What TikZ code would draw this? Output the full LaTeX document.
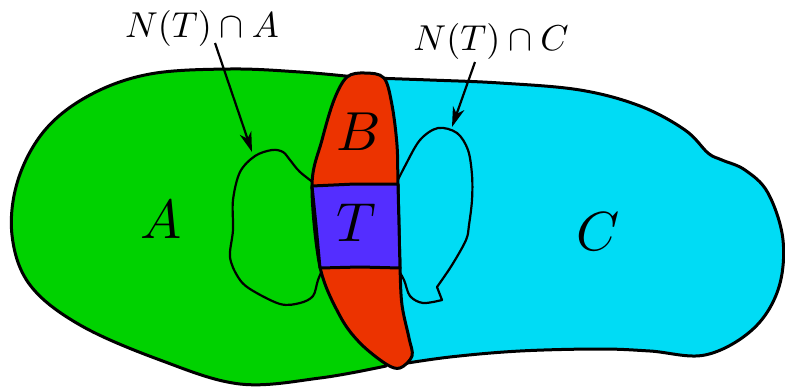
\documentclass[tikz,border=0pt]{standalone}
\usetikzlibrary{arrows.meta}
\definecolor{regA}{RGB}{0,210,0}
\definecolor{regB}{RGB}{236,51,0}
\definecolor{regT}{RGB}{84,46,255}
\definecolor{regC}{RGB}{0,220,245}
\tikzset{
  region/.style={draw=black, line width=3pt, line join=round},
  nbhd/.style={draw=black, line width=2.2pt, line join=round},
  pointer/.style={draw=black, line width=2.2pt, -{Stealth[length=20pt,width=12pt,inset=6pt]}},
  biglabel/.style={inner sep=0pt, scale=5.5},
  smalllabel/.style={inner sep=0pt, anchor=base, scale=3.6}
}
\begin{document}
\begin{tikzpicture}[x=1pt,y=-1pt]
\useasboundingbox (0,0) rectangle (785,386);
% region A (green)
\draw[region, fill=regA] plot[smooth, tension=0.6] coordinates {(355,77) (300,72) (230,69) (150,74) (90,95) (45,130) (18,180) (12,235) (30,285) (80,325) (160,360) (240,384) (320,378) (386,366)}
  -- (378,330) -- (360,250) -- (358,150) -- (362,90) -- cycle;
% region C (cyan)
\draw[region, fill=regC] plot[smooth, tension=0.6] coordinates {(372,78) (430,80) (500,83) (580,90) (640,106) (685,130) (708,153) (722,160) (745,170) (768,193) (783,240) (778,290) (752,330) (705,355) (650,351) (600,349) (520,351) (450,357) (395,365)}
  -- (398,300) -- (385,200) -- (380,100) -- cycle;
% N(T) cap A
\draw[nbhd] plot[smooth, tension=0.55] coordinates {(318,186) (300,172) (290,160) (283,152) (272,150) (255,156) (240,172) (233,200) (233,230) (230,257) (238,277) (250,289) (280,304) (300,303) (313,296) (318,280) (324,266)};
% N(T) cap C
\draw[nbhd] plot[smooth, tension=0.55] coordinates {(394,188) (405,166) (420,140) (438,128) (457,133) (468,150) (472,175) (472,200) (469,225) (466,240) (452,265) (437,287)}
  -- (442,300) -- plot[smooth, tension=0.55] coordinates {(442,300) (423,303) (410,296) (404,280) (396,266)};
% region B (red strip)
\draw[region, fill=regB] plot[smooth cycle, tension=0.55] coordinates {(347,77) (365,73) (384,78) (392,105) (397,145) (398,185) (400,267) (402,305) (409,338) (412,356) (400,368) (386,364) (360,343) (340,316) (320,267) (312,185) (322,140) (334,100)};
% region T (blue)
\draw[region, fill=regT] (312,186) -- (355,184) -- (398,184) -- (399,225) -- (400,268) -- (360,267) -- (320,268) -- (316,225) -- cycle;
% labels
\node[biglabel] (lA) at (161,220) {$A$};
\node[biglabel] (lB) at (359,132) {$B$};
\node[biglabel] (lT) at (356,223) {$T$};
\node[biglabel] (lC) at (598,232) {$C$};
\node[smalllabel] (nA) at (202,37) {$N(T)\cap A$};
\node[smalllabel] (nC) at (491,50) {$N(T)\cap C$};
\coordinate (tA) at (252,152);
\coordinate (tC) at (452,127);
\draw[pointer] (215,43) -- (tA);
\draw[pointer] (475,62) -- (tC);
\end{tikzpicture}
\end{document}
